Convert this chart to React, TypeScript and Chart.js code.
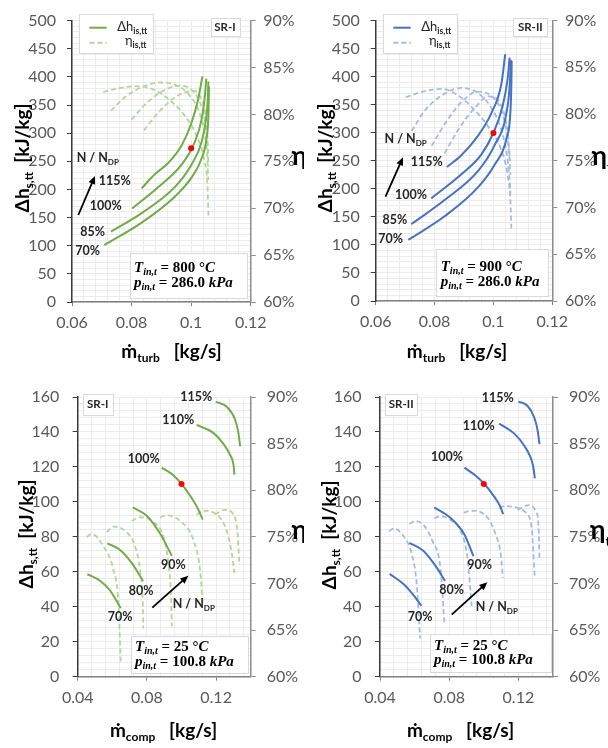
import React, { useEffect, useRef } from 'react';
import { Chart, registerables } from 'chart.js';

Chart.register(...registerables);

type Pt = [number, number];

// ---------- axis ticks ----------
const TURB_X_TICKS = [0.06, 0.08, 0.1, 0.12];
const TURB_DH_TICKS = [0, 50, 100, 150, 200, 250, 300, 350, 400, 450, 500];
const COMP_X_TICKS = [0.04, 0.08, 0.12];
const COMP_X_MAX = 0.14;
const COMP_DH_TICKS = [0, 20, 40, 60, 80, 100, 120, 140, 160];
const ETA_TICKS = [60, 65, 70, 75, 80, 85, 90];

// ---------- speed-line labels (N / N_DP) ----------
const TURB_SPEEDS = ['70%', '85%', '100%', '115%'];
const COMP_SPEEDS = ['70%', '80%', '90%', '100%', '110%', '115%'];

// ---------- inlet conditions ----------
const TURB_SR1_T_IN = '800';
const TURB_SR2_T_IN = '900';
const TURB_P_IN = '286.0';
const COMP_T_IN = '25';
const COMP_P_IN = '100.8';

// ---------- turbine SR-I: Δh_is,tt [kJ/kg] vs mass flow [kg/s] ----------
const SR1_TURB_DH_70: Pt[] = [[0.0708, 101], [0.0834, 141], [0.0945, 187], [0.1001, 221], [0.1035, 255], [0.1052, 292], [0.1058, 332], [0.1060, 383]];
const SR1_TURB_DH_85: Pt[] = [[0.0731, 125], [0.0834, 158], [0.0945, 204], [0.1001, 244], [0.1035, 284], [0.1050, 325], [0.1056, 360], [0.1058, 392]];
const SR1_TURB_DH_100: Pt[] = [[0.0802, 166], [0.0889, 204], [0.0968, 244], [0.1012, 284], [0.1035, 324], [0.1046, 365], [0.1051, 397]];
const SR1_TURB_DH_115: Pt[] = [[0.0834, 202], [0.0878, 227], [0.0923, 247], [0.0968, 278], [0.1001, 318], [0.1023, 359], [0.1038, 401]];
// efficiency η_is,tt [%]
const SR1_TURB_ETA_70: Pt[] = [[0.0705, 82.4], [0.0760, 82.8], [0.0817, 83.0], [0.0870, 82.7], [0.0925, 81.6], [0.0980, 79.8], [0.1020, 77.6], [0.1045, 75.0], [0.1055, 72.3], [0.1058, 69.2]];
const SR1_TURB_ETA_85: Pt[] = [[0.0731, 80.4], [0.0780, 81.9], [0.0835, 82.9], [0.0895, 83.4], [0.0950, 83.1], [0.0995, 82.0], [0.1030, 80.0], [0.1048, 77.5], [0.1055, 75.0], [0.1057, 73.0]];
const SR1_TURB_ETA_100: Pt[] = [[0.0800, 79.45], [0.0850, 81.2], [0.0905, 82.5], [0.0962, 83.06], [0.1005, 82.5], [0.1035, 80.8], [0.1050, 78.5], [0.1056, 76.0], [0.1058, 74.5]];
const SR1_TURB_ETA_115: Pt[] = [[0.0842, 78.3], [0.0890, 80.2], [0.0950, 81.9], [0.1007, 82.5], [0.1035, 81.6], [0.1050, 79.5], [0.1055, 77.5], [0.1057, 76.0]];
const SR1_TURB_DESIGN: Pt = [0.1, 273];

// ---------- turbine SR-II ----------
const SR2_TURB_DH_70: Pt[] = [[0.0711, 109], [0.0834, 151], [0.0948, 203], [0.1004, 243], [0.1044, 289], [0.1058, 340], [0.1061, 390], [0.1062, 428]];
const SR2_TURB_DH_85: Pt[] = [[0.0721, 137], [0.0834, 180], [0.0948, 232], [0.1004, 278], [0.1044, 335], [0.1056, 390], [0.1059, 430]];
const SR2_TURB_DH_100: Pt[] = [[0.0789, 183], [0.0891, 226], [0.0960, 262], [0.1000, 300], [0.1030, 345], [0.1048, 395], [0.1055, 434]];
const SR2_TURB_DH_115: Pt[] = [[0.0842, 239], [0.0891, 260], [0.0948, 295], [0.0993, 335], [0.1027, 387], [0.1040, 440]];
const SR2_TURB_ETA_70: Pt[] = [[0.0702, 81.8], [0.0760, 82.4], [0.0821, 82.7], [0.0880, 82.0], [0.0940, 80.3], [0.0990, 78.3], [0.1025, 76.3], [0.1048, 73.5], [0.1058, 70.5], [0.1061, 67.7]];
const SR2_TURB_ETA_85: Pt[] = [[0.0722, 78.2], [0.0770, 80.5], [0.0830, 82.1], [0.0889, 82.8], [0.0945, 82.3], [0.0990, 80.8], [0.1025, 78.5], [0.1045, 75.8], [0.1055, 73.0], [0.1058, 71.5]];
const SR2_TURB_ETA_100: Pt[] = [[0.0790, 76.6], [0.0840, 79.2], [0.0895, 81.4], [0.0945, 82.4], [0.0990, 82.0], [0.1025, 80.5], [0.1045, 78.0], [0.1055, 75.0], [0.1058, 73.5]];
const SR2_TURB_ETA_115: Pt[] = [[0.0834, 75.8], [0.0880, 78.3], [0.0935, 80.6], [0.0985, 81.9], [0.1020, 81.3], [0.1042, 79.3], [0.1052, 77.0], [0.1056, 75.0]];
const SR2_TURB_DESIGN: Pt = [0.1, 299.5];

// ---------- compressor SR-I: Δh_s,tt [kJ/kg] vs mass flow [kg/s] ----------
const SR1_COMP_DH_70: Pt[] = [[0.0456, 58.6], [0.0529, 54.9], [0.0587, 49.3], [0.0649, 39.1]];
const SR1_COMP_DH_80: Pt[] = [[0.0571, 76.3], [0.0645, 72.5], [0.0712, 65.1], [0.0778, 54.7]];
const SR1_COMP_DH_90: Pt[] = [[0.0718, 96.8], [0.0799, 92.1], [0.0876, 81.9], [0.0944, 69.2]];
const SR1_COMP_DH_100: Pt[] = [[0.0886, 119.6], [0.0950, 115.5], [0.1000, 110.3], [0.1050, 103.5], [0.1090, 97.0], [0.1123, 89.9]];
const SR1_COMP_DH_110: Pt[] = [[0.1088, 144.0], [0.1184, 139.5], [0.1240, 133.5], [0.1280, 127.0], [0.1300, 121.5], [0.1306, 115.6]];
const SR1_COMP_DH_115: Pt[] = [[0.1198, 157.2], [0.1262, 154.4], [0.1310, 147.0], [0.1329, 139.5], [0.1339, 131.7]];
const SR1_COMP_ETA_70: Pt[] = [[0.0452, 75.0], [0.0481, 75.3], [0.0548, 74.0], [0.0606, 71.5], [0.0635, 68.0], [0.0649, 61.4]];
const SR1_COMP_ETA_80: Pt[] = [[0.0568, 75.5], [0.0606, 76.1], [0.0683, 75.5], [0.0731, 74.0], [0.0760, 71.5], [0.0776, 68.0], [0.0779, 65.2]];
const SR1_COMP_ETA_90: Pt[] = [[0.0712, 76.7], [0.0760, 77.1], [0.0837, 76.6], [0.0895, 75.0], [0.0924, 72.2], [0.0940, 68.4], [0.0944, 65.4]];
const SR1_COMP_ETA_100: Pt[] = [[0.0876, 77.1], [0.0915, 77.3], [0.0992, 76.7], [0.1069, 74.65], [0.1107, 71.5], [0.1124, 67.7]];
const SR1_COMP_ETA_110: Pt[] = [[0.1088, 77.4], [0.1126, 77.8], [0.1204, 77.4], [0.1262, 75.6], [0.1291, 73.2], [0.1306, 71.1]];
const SR1_COMP_ETA_115: Pt[] = [[0.1194, 77.4], [0.1252, 77.9], [0.1300, 77.4], [0.1323, 75.6], [0.1335, 72.0]];
const SR1_COMP_DESIGN: Pt = [0.1, 110.2];

// ---------- compressor SR-II ----------
const SR2_COMP_DH_70: Pt[] = [[0.0456, 58.8], [0.0539, 52.7], [0.0597, 46.2], [0.0639, 40.6]];
const SR2_COMP_DH_80: Pt[] = [[0.0570, 76.6], [0.0650, 72.0], [0.0720, 63.5], [0.0776, 54.8]];
const SR2_COMP_DH_90: Pt[] = [[0.0714, 96.9], [0.0808, 90.8], [0.0887, 81.5], [0.0940, 69.0]];
const SR2_COMP_DH_100: Pt[] = [[0.0888, 119.6], [0.0950, 115.2], [0.1003, 110.3], [0.1060, 103.0], [0.1092, 98.0], [0.1112, 93.0]];
const SR2_COMP_DH_110: Pt[] = [[0.1089, 144.8], [0.1175, 139.2], [0.1235, 132.0], [0.1268, 126.0], [0.1285, 120.5], [0.1295, 113.5]];
const SR2_COMP_DH_115: Pt[] = [[0.1200, 157.4], [0.1252, 155.0], [0.1291, 148.4], [0.1311, 141.0], [0.1322, 133.0]];
const SR2_COMP_ETA_70: Pt[] = [[0.0452, 75.6], [0.0481, 75.9], [0.0535, 75.1], [0.0583, 73.2], [0.0612, 70.0], [0.0632, 64.1]];
const SR2_COMP_ETA_80: Pt[] = [[0.0570, 76.4], [0.0603, 76.7], [0.0655, 76.2], [0.0702, 74.6], [0.0751, 71.4], [0.0772, 65.7]];
const SR2_COMP_ETA_90: Pt[] = [[0.0714, 77.0], [0.0751, 77.2], [0.0809, 76.8], [0.0866, 75.6], [0.0905, 72.8], [0.0930, 67.6]];
const SR2_COMP_ETA_100: Pt[] = [[0.0884, 77.6], [0.0927, 77.8], [0.1004, 77.4], [0.1062, 75.6], [0.1100, 72.8], [0.1110, 70.6]];
const SR2_COMP_ETA_110: Pt[] = [[0.1089, 78.1], [0.1124, 78.3], [0.1176, 78.2], [0.1237, 77.7], [0.1276, 76.0], [0.1295, 70.6]];
const SR2_COMP_ETA_115: Pt[] = [[0.1195, 77.9], [0.1263, 78.4], [0.1302, 77.7], [0.1317, 76.0], [0.1322, 72.4]];
const SR2_COMP_DESIGN: Pt = [0.1, 110.3];

// ---------- styling ----------
const SANS = 'Lato, "Open Sans", "Noto Sans", sans-serif';
const SERIF = '"Liberation Serif", "DejaVu Serif", serif';
const GREEN = '#70AD47';
const GREEN_LIGHT = '#B3D69A';
const BLUE = '#4472C4';
const BLUE_LIGHT = '#A5BBE5';
const TICK_TEXT = '#595959';
const GRID = '#ececec';
const W = 304;
const H = 374;

type Part = { t: string; font: string; dy?: number };
type XY = [number, number];

interface PanelDef {
  left: number;
  top: number;
  area: { l: number; r: number; t: number; b: number };
  xMin: number; xMax: number; xTicks: number[]; xMinor: number;
  yMin: number; yMax: number; yTicks: number[]; yMinor: number;
  pad: { y: number; y2: number; x: number };
  color: string; light: string;
  dh: Pt[][]; eta: Pt[][]; dot: Pt;
  flowSub: string;
  yTitle: XY; xTitle: XY; etaTitle: XY;
  legend: boolean;
  tag: string; tagBox: [number, number, number, number];
  condBox: [number, number, number, number]; condX: number; condY: [number, number];
  tIn: string; pIn: string;
  speeds: string[]; speedPos: XY[];
  nLabel: XY; arrow: [number, number, number, number];
}

const PANELS: PanelDef[] = [
  {
    left: 0, top: 0,
    area: { l: 72, r: 250.7, t: 11, b: 302 },
    xMin: 0.06, xMax: 0.12, xTicks: TURB_X_TICKS, xMinor: 0.004,
    yMin: 0, yMax: 500, yTicks: TURB_DH_TICKS, yMinor: 10,
    pad: { y: 11, y2: 7.6, x: 7 },
    color: GREEN, light: GREEN_LIGHT,
    dh: [SR1_TURB_DH_70, SR1_TURB_DH_85, SR1_TURB_DH_100, SR1_TURB_DH_115],
    eta: [SR1_TURB_ETA_70, SR1_TURB_ETA_85, SR1_TURB_ETA_100, SR1_TURB_ETA_115],
    dot: SR1_TURB_DESIGN,
    flowSub: 'turb',
    yTitle: [22.5, 158], xTitle: [171.5, 358], etaTitle: [291.5, 165],
    legend: true,
    tag: 'SR-I', tagBox: [210.7, 18.3, 239.3, 36],
    condBox: [130, 252.7, 247.3, 298], condX: 134, condY: [271.7, 286.5],
    tIn: TURB_SR1_T_IN, pIn: TURB_P_IN,
    speeds: TURB_SPEEDS, speedPos: [[87.5, 251], [92.5, 232], [105.8, 206], [114.8, 181]],
    nLabel: [76.7, 162.3], arrow: [78.3, 215, 95, 176],
  },
  {
    left: 304, top: 0,
    area: { l: 71.7, r: 248.3, t: 11, b: 301 },
    xMin: 0.06, xMax: 0.12, xTicks: TURB_X_TICKS, xMinor: 0.004,
    yMin: 0, yMax: 500, yTicks: TURB_DH_TICKS, yMinor: 10,
    pad: { y: 11, y2: 7.6, x: 7 },
    color: BLUE, light: BLUE_LIGHT,
    dh: [SR2_TURB_DH_70, SR2_TURB_DH_85, SR2_TURB_DH_100, SR2_TURB_DH_115],
    eta: [SR2_TURB_ETA_70, SR2_TURB_ETA_85, SR2_TURB_ETA_100, SR2_TURB_ETA_115],
    dot: SR2_TURB_DESIGN,
    flowSub: 'turb',
    yTitle: [21.5, 158], xTitle: [153, 358], etaTitle: [287.5, 165],
    legend: true,
    tag: 'SR-II', tagBox: [209.3, 18.3, 243.3, 36],
    condBox: [132.3, 249.3, 244.3, 296], condX: 136.7, condY: [270.7, 285.5],
    tIn: TURB_SR2_T_IN, pIn: TURB_P_IN,
    speeds: TURB_SPEEDS, speedPos: [[86.5, 239.3], [90.8, 220], [107, 195], [122.8, 161.7]],
    nLabel: [80.5, 143.3], arrow: [81.5, 196.7, 99, 157.3],
  },
  {
    left: 0, top: 374,
    area: { l: 77.7, r: 250.7, t: 16, b: 302.7 },
    xMin: 0.04, xMax: COMP_X_MAX, xTicks: COMP_X_TICKS, xMinor: 0.008,
    yMin: 0, yMax: 160, yTicks: COMP_DH_TICKS, yMinor: 4,
    pad: { y: 13.4, y2: 11, x: 7.8 },
    color: GREEN, light: GREEN_LIGHT,
    dh: [SR1_COMP_DH_70, SR1_COMP_DH_80, SR1_COMP_DH_90, SR1_COMP_DH_100, SR1_COMP_DH_110, SR1_COMP_DH_115],
    eta: [SR1_COMP_ETA_70, SR1_COMP_ETA_80, SR1_COMP_ETA_90, SR1_COMP_ETA_100, SR1_COMP_ETA_110, SR1_COMP_ETA_115],
    dot: SR1_COMP_DESIGN,
    flowSub: 'comp',
    yTitle: [26, 160], xTitle: [163.5, 363], etaTitle: [291.5, 165],
    legend: false,
    tag: 'SR-I', tagBox: [82.7, 19.5, 112.7, 40.5],
    condBox: [131, 261.7, 248.3, 298.3], condX: 135, condY: [277.3, 291.7],
    tIn: COMP_T_IN, pIn: COMP_P_IN,
    speeds: COMP_SPEEDS, speedPos: [[120, 242.8], [141.2, 216.5], [173.3, 190.8], [143.8, 85], [178.3, 45.8], [196.3, 22.5]],
    nLabel: [172.7, 233.5], arrow: [152.3, 233.7, 188.3, 201.7],
  },
  {
    left: 304, top: 374,
    area: { l: 76, r: 249, t: 16, b: 302.7 },
    xMin: 0.04, xMax: COMP_X_MAX, xTicks: COMP_X_TICKS, xMinor: 0.008,
    yMin: 0, yMax: 160, yTicks: COMP_DH_TICKS, yMinor: 4,
    pad: { y: 13.4, y2: 11, x: 7.8 },
    color: BLUE, light: BLUE_LIGHT,
    dh: [SR2_COMP_DH_70, SR2_COMP_DH_80, SR2_COMP_DH_90, SR2_COMP_DH_100, SR2_COMP_DH_110, SR2_COMP_DH_115],
    eta: [SR2_COMP_ETA_70, SR2_COMP_ETA_80, SR2_COMP_ETA_90, SR2_COMP_ETA_100, SR2_COMP_ETA_110, SR2_COMP_ETA_115],
    dot: SR2_COMP_DESIGN,
    flowSub: 'comp',
    yTitle: [25, 161], xTitle: [156.5, 363], etaTitle: [286, 165],
    legend: false,
    tag: 'SR-II', tagBox: [81, 19.5, 113.3, 40.5],
    condBox: [126, 260, 246.7, 298.3], condX: 130, condY: [276, 290.3],
    tIn: COMP_T_IN, pIn: COMP_P_IN,
    speeds: COMP_SPEEDS, speedPos: [[116.2, 242.5], [147.5, 215.5], [175.5, 191], [143, 83], [174.7, 51.8], [193.8, 23.8]],
    nLabel: [171.7, 237], arrow: [147.7, 240.7, 183.3, 208.3],
  },
];

function stepValues(min: number, max: number, step: number): number[] {
  const out: number[] = [];
  const n = Math.floor((max - min) / step + 1e-6);
  for (let i = 0; i <= n; i++) out.push(+(min + i * step).toFixed(6));
  return out;
}

const onMajor = (v: number, majors: number[], step: number) =>
  majors.some((m) => Math.abs(m - v) < step * 1e-3);

function rich(ctx: CanvasRenderingContext2D, parts: Part[], x: number, y: number, align: 'left' | 'center' | 'right') {
  let w = 0;
  for (const p of parts) {
    ctx.font = p.font;
    w += ctx.measureText(p.t).width;
  }
  let cx = align === 'left' ? x : align === 'center' ? x - w / 2 : x - w;
  for (const p of parts) {
    ctx.font = p.font;
    ctx.fillText(p.t, cx, y + (p.dy || 0));
    cx += ctx.measureText(p.t).width;
  }
}

function box(ctx: CanvasRenderingContext2D, [x1, y1, x2, y2]: [number, number, number, number]) {
  ctx.fillStyle = '#ffffff';
  ctx.fillRect(x1, y1, x2 - x1, y2 - y1);
  ctx.strokeStyle = '#d9d9d9';
  ctx.lineWidth = 1;
  ctx.strokeRect(Math.round(x1) + 0.5, Math.round(y1) + 0.5, Math.round(x2 - x1), Math.round(y2 - y1));
}

function annotations(p: PanelDef) {
  return {
    id: 'annotations',
    afterDraw(chart: Chart) {
      const ctx = chart.ctx;
      ctx.save();
      ctx.textAlign = 'left';
      ctx.textBaseline = 'alphabetic';

      // axis titles
      ctx.fillStyle = '#000000';
      ctx.save();
      ctx.translate(p.yTitle[0], p.yTitle[1]);
      ctx.rotate(-Math.PI / 2);
      rich(ctx, [
        { t: 'Δh', font: `bold 19px ${SANS}` },
        { t: 's,tt', font: `bold 12px ${SANS}`, dy: 4 },
        { t: '  [kJ/kg]', font: `bold 19px ${SANS}` },
      ], 0, 6.5, 'center');
      ctx.restore();

      rich(ctx, [
        { t: 'ṁ', font: `bold 19px ${SANS}` },
        { t: p.flowSub, font: `bold 12px ${SANS}`, dy: 4 },
        { t: '   [kg/s]', font: `bold 19px ${SANS}` },
      ], p.xTitle[0], p.xTitle[1], 'center');

      rich(ctx, [
        { t: 'η', font: `bold 26px ${SANS}` },
        { t: 'tt', font: `bold 14px ${SANS}`, dy: 7 },
      ], p.etaTitle[0], p.etaTitle[1], 'left');

      // legend
      if (p.legend) {
        box(ctx, [79, 14, 153, 52.7]);
        ctx.lineWidth = 2;
        ctx.strokeStyle = p.color;
        ctx.beginPath();
        ctx.moveTo(89.3, 27.7);
        ctx.lineTo(106.7, 27.7);
        ctx.stroke();
        ctx.strokeStyle = p.light;
        ctx.setLineDash([5, 3]);
        ctx.beginPath();
        ctx.moveTo(89.3, 42.7);
        ctx.lineTo(106.7, 42.7);
        ctx.stroke();
        ctx.setLineDash([]);
        ctx.fillStyle = '#262626';
        rich(ctx, [
          { t: 'Δh', font: `13px ${SANS}` },
          { t: 'is,tt', font: `bold 8.5px ${SANS}`, dy: 3 },
        ], 117.3, 31, 'left');
        rich(ctx, [
          { t: 'η', font: `13px ${SANS}` },
          { t: 'is,tt', font: `bold 8.5px ${SANS}`, dy: 3 },
        ], 125, 44.5, 'left');
      }

      // SR tag
      box(ctx, p.tagBox);
      ctx.fillStyle = '#262626';
      ctx.font = `bold 11.5px ${SANS}`;
      ctx.textAlign = 'center';
      ctx.textBaseline = 'middle';
      ctx.fillText(p.tag, (p.tagBox[0] + p.tagBox[2]) / 2, (p.tagBox[1] + p.tagBox[3]) / 2 + 0.5);

      // speed-line labels
      ctx.font = `bold 12.5px ${SANS}`;
      p.speeds.forEach((s, i) => ctx.fillText(s, p.speedPos[i][0], p.speedPos[i][1]));
      ctx.textAlign = 'left';
      ctx.textBaseline = 'alphabetic';

      rich(ctx, [
        { t: 'N / N', font: `bold 12.5px ${SANS}` },
        { t: 'DP', font: `bold 8px ${SANS}`, dy: 3 },
      ], p.nLabel[0], p.nLabel[1], 'left');

      // arrow of increasing speed
      const [x1, y1, x2, y2] = p.arrow;
      const ang = Math.atan2(y2 - y1, x2 - x1);
      const hl = 8;
      ctx.strokeStyle = '#000000';
      ctx.fillStyle = '#000000';
      ctx.lineWidth = 1.8;
      ctx.beginPath();
      ctx.moveTo(x1, y1);
      ctx.lineTo(x2 - Math.cos(ang) * hl * 0.8, y2 - Math.sin(ang) * hl * 0.8);
      ctx.stroke();
      ctx.beginPath();
      ctx.moveTo(x2, y2);
      ctx.lineTo(x2 - hl * Math.cos(ang) + 3.5 * Math.sin(ang), y2 - hl * Math.sin(ang) - 3.5 * Math.cos(ang));
      ctx.lineTo(x2 - hl * Math.cos(ang) - 3.5 * Math.sin(ang), y2 - hl * Math.sin(ang) + 3.5 * Math.cos(ang));
      ctx.closePath();
      ctx.fill();

      // inlet condition box
      box(ctx, p.condBox);
      ctx.fillStyle = '#000000';
      const bi = `italic bold 15px ${SERIF}`;
      const b = `bold 15px ${SERIF}`;
      const sub = `italic bold 10px ${SERIF}`;
      rich(ctx, [
        { t: 'T', font: bi },
        { t: 'in,t', font: sub, dy: 3 },
        { t: ` = ${p.tIn} °`, font: b },
        { t: 'C', font: bi },
      ], p.condX, p.condY[0], 'left');
      rich(ctx, [
        { t: 'p', font: bi },
        { t: 'in,t', font: sub, dy: 3 },
        { t: ` = ${p.pIn} `, font: b },
        { t: 'kPa', font: bi },
      ], p.condX, p.condY[1], 'left');

      ctx.restore();
    },
  };
}

function buildConfig(p: PanelDef): any {
  const xs = stepValues(p.xMin, p.xMax, p.xMinor);
  const ys = stepValues(p.yMin, p.yMax, p.yMinor);
  const datasets: any[] = [];
  p.eta.forEach((c) =>
    datasets.push({
      data: c.map(([x, y]) => ({ x, y })),
      yAxisID: 'y2',
      borderColor: p.light,
      borderWidth: 1.8,
      borderDash: [5, 3],
      pointRadius: 0,
      showLine: true,
      tension: 0.4,
      cubicInterpolationMode: 'monotone',
      order: 3,
    })
  );
  p.dh.forEach((c) =>
    datasets.push({
      data: c.map(([x, y]) => ({ x, y })),
      yAxisID: 'y',
      borderColor: p.color,
      borderWidth: 2,
      pointRadius: 0,
      showLine: true,
      tension: 0.4,
      cubicInterpolationMode: 'monotone',
      order: 2,
    })
  );
  datasets.push({
    data: [{ x: p.dot[0], y: p.dot[1] }],
    yAxisID: 'y',
    pointRadius: 3,
    pointBackgroundColor: '#FF0000',
    pointBorderWidth: 0,
    showLine: false,
    order: 1,
  });

  const tickFont = { family: SANS, size: 16 };
  const fmtX = (v: number) => String(+v.toFixed(3));

  return {
    type: 'scatter',
    data: { datasets },
    plugins: [annotations(p)],
    options: {
      responsive: false,
      animation: false,
      devicePixelRatio: 1,
      events: [],
      layout: { padding: { top: p.area.t, left: 0, right: 0, bottom: 0 } },
      plugins: { legend: { display: false }, tooltip: { enabled: false } },
      scales: {
        x: {
          type: 'linear',
          position: 'bottom',
          min: p.xMin,
          max: p.xMax,
          afterBuildTicks: (s: any) => { s.ticks = xs.map((value) => ({ value })); },
          afterFit: (s: any) => { s.height = H - p.area.b; },
          ticks: {
            autoSkip: false,
            maxRotation: 0,
            minRotation: 0,
            padding: p.pad.x,
            color: TICK_TEXT,
            font: tickFont,
            callback: (v: number) => (onMajor(v, p.xTicks, p.xMinor) ? fmtX(v) : ''),
          },
          grid: {
            color: GRID,
            lineWidth: 1,
            tickLength: 4,
            tickColor: (c: any) => (c.tick && onMajor(c.tick.value, p.xTicks, p.xMinor) ? '#808080' : 'rgba(0,0,0,0)'),
          },
          border: { display: true, color: '#808080', width: 1.5 },
        },
        y: {
          type: 'linear',
          position: 'left',
          min: p.yMin,
          max: p.yMax,
          afterBuildTicks: (s: any) => { s.ticks = ys.map((value) => ({ value })); },
          afterFit: (s: any) => { s.width = p.area.l; },
          ticks: {
            autoSkip: false,
            padding: p.pad.y,
            color: TICK_TEXT,
            font: tickFont,
            callback: (v: number) => (onMajor(v, p.yTicks, p.yMinor) ? String(v) : ''),
          },
          grid: {
            color: GRID,
            lineWidth: 1,
            tickLength: 5,
            tickColor: (c: any) => (c.tick && onMajor(c.tick.value, p.yTicks, p.yMinor) ? '#3a3a3a' : 'rgba(0,0,0,0)'),
          },
          border: { display: true, color: '#3a3a3a', width: 1.5 },
        },
        y2: {
          type: 'linear',
          position: 'right',
          min: ETA_TICKS[0],
          max: ETA_TICKS[ETA_TICKS.length - 1],
          afterBuildTicks: (s: any) => { s.ticks = ETA_TICKS.map((value) => ({ value })); },
          afterFit: (s: any) => { s.width = W - p.area.r; },
          ticks: {
            autoSkip: false,
            padding: p.pad.y2,
            color: TICK_TEXT,
            font: tickFont,
            callback: (v: number) => `${v}%`,
          },
          grid: { drawOnChartArea: false, tickLength: 5, color: '#8c8c8c', lineWidth: 1 },
          border: { display: true, color: '#8c8c8c', width: 1.5 },
        },
      },
    },
  };
}

function Panel({ def }: { def: PanelDef }) {
  const ref = useRef<HTMLCanvasElement | null>(null);
  useEffect(() => {
    if (!ref.current) return;
    const chart = new Chart(ref.current, buildConfig(def));
    return () => chart.destroy();
  }, [def]);
  return (
    <canvas
      ref={ref}
      width={W}
      height={H}
      style={{ position: 'absolute', left: def.left, top: def.top, width: W, height: H }}
    />
  );
}

export default function App() {
  return (
    <div style={{ position: 'absolute', left: 0, top: 0, width: 608, height: 748, background: '#ffffff', overflow: 'hidden' }}>
      {PANELS.map((d, i) => (
        <Panel key={i} def={d} />
      ))}
    </div>
  );
}
